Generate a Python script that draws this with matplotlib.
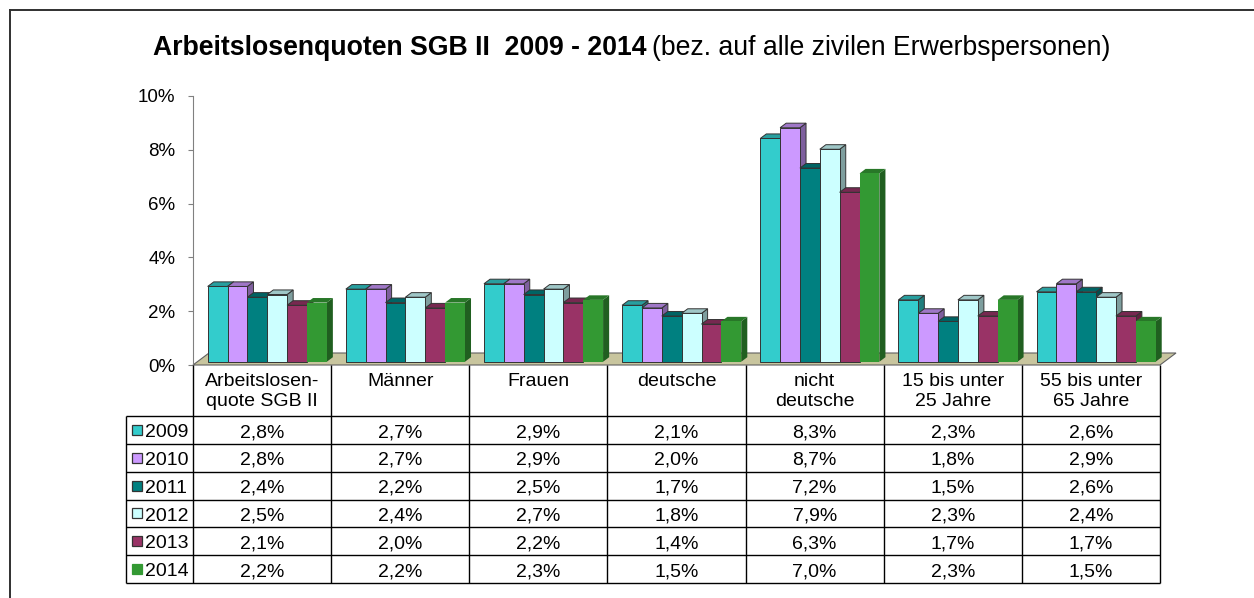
import matplotlib.pyplot as plt
from matplotlib.patches import Polygon, Rectangle
from matplotlib.lines import Line2D
from matplotlib.colors import to_rgb

plt.rcParams['font.family'] = ['Liberation Sans', 'DejaVu Sans']

# Daten
categories = ['Arbeitslosen-\nquote SGB II', 'Männer', 'Frauen', 'deutsche',
              'nicht\ndeutsche', '15 bis unter\n25 Jahre', '55 bis unter\n65 Jahre']
years = ['2009', '2010', '2011', '2012', '2013', '2014']
q2009 = [2.8, 2.7, 2.9, 2.1, 8.3, 2.3, 2.6]
q2010 = [2.8, 2.7, 2.9, 2.0, 8.7, 1.8, 2.9]
q2011 = [2.4, 2.2, 2.5, 1.7, 7.2, 1.5, 2.6]
q2012 = [2.5, 2.4, 2.7, 1.8, 7.9, 2.3, 2.4]
q2013 = [2.1, 2.0, 2.2, 1.4, 6.3, 1.7, 1.7]
q2014 = [2.2, 2.2, 2.3, 1.5, 7.0, 2.3, 1.5]
values = [q2009, q2010, q2011, q2012, q2013, q2014]
yticks = [0, 2, 4, 6, 8, 10]

colors = ['#33CCCC', '#CC99FF', '#008080', '#CCFFFF', '#993366', '#339933']
edges = ['#333333', '#333333', '#333333', '#333333', '#333333', 'none']


def shade(c, f):
    r, g, b = to_rgb(c)
    return (r * f, g * f, b * f)


W, H = 1254, 598
fig = plt.figure(figsize=(W / 100, H / 100), dpi=100)

# Rahmen (links und oben)
fig.add_artist(Line2D([10 / W, 10 / W], [0, 1 - 10 / H], color='#303030', lw=1.4))
fig.add_artist(Line2D([10 / W, 1], [1 - 10 / H, 1 - 10 / H], color='#303030', lw=1.4))

# Diagramm
ax = fig.add_axes([193 / W, (H - 365) / H, (1160 - 193) / W, (365 - 96) / H])
ax.set_xlim(-0.5, 6.5)
ax.set_ylim(0, 10)
for s in ['top', 'right', 'bottom']:
    ax.spines[s].set_visible(False)
ax.spines['left'].set_color('#808080')
ax.set_xticks([])
ax.set_yticks(yticks)
ax.set_yticklabels([f'{t}%' for t in yticks])
ax.tick_params(axis='y', direction='out', length=3.6, width=0.8, color='#808080',
               pad=9, labelsize=13.5)

dxd = 16 / 138.1      # Tiefe in Kategorie-Einheiten
dyd = 12 / 26.9       # Tiefe in %
f1, f2 = 0.27, 0.65
bw = 0.1437

floor = Polygon([(-0.5, 0), (6.5, 0), (6.5 + dxd, dyd), (-0.5 + dxd, dyd)],
                closed=True, facecolor='#c8c59e', edgecolor='#606060', lw=0.8,
                clip_on=False, zorder=1)
ax.add_patch(floor)

ddx, ddy = (f2 - f1) * dxd, (f2 - f1) * dyd
z = 2
for c in range(len(categories)):
    for s in range(len(years)):
        v = values[s][c]
        xl = c - 0.425 + s * bw + f1 * dxd
        y0 = f1 * dyd
        side = Polygon([(xl + bw, y0), (xl + bw + ddx, y0 + ddy),
                        (xl + bw + ddx, y0 + v + ddy), (xl + bw, y0 + v)],
                       closed=True, facecolor=shade(colors[s], 0.62),
                       edgecolor=edges[s], lw=0.7, clip_on=False, zorder=z)
        top = Polygon([(xl, y0 + v), (xl + bw, y0 + v), (xl + bw + ddx, y0 + v + ddy),
                       (xl + ddx, y0 + v + ddy)],
                      closed=True, facecolor=shade(colors[s], 0.78),
                      edgecolor=edges[s], lw=0.7, clip_on=False, zorder=z)
        front = Rectangle((xl, y0), bw, v, facecolor=colors[s], edgecolor=edges[s],
                          lw=0.7, clip_on=False, zorder=z)
        ax.add_patch(side)
        ax.add_patch(top)
        ax.add_patch(front)
        z += 1

# Datentabelle
tb = fig.add_axes([126 / W, (H - 583) / H, 1034 / W, 218 / H])
xl0 = -0.5 - 67 / 138.1
hdr = 51 / 27.83
tb.set_xlim(xl0, 6.5)
tb.set_ylim(6, -hdr)
tb.axis('off')

nrows = len(years)
tb.hlines(range(nrows + 1), xl0, 6.5, color='black', lw=1.0, clip_on=False)
tb.vlines([xl0], 0, nrows, color='black', lw=1.0, clip_on=False)
tb.vlines([k - 0.5 for k in range(len(categories) + 1)], -hdr, nrows,
          color='black', lw=1.0, clip_on=False)

for c, cat in enumerate(categories):
    tb.text(c, -hdr + 8 / 27.83, cat, ha='center', va='top', fontsize=14)

for r, yr in enumerate(years):
    tb.plot([xl0 + 10.7 / 138.1], [r + 0.5], marker='s', markersize=6.5,
            markerfacecolor=colors[r], markeredgecolor=edges[r] if edges[r] != 'none' else colors[r],
            markeredgewidth=0.9, clip_on=False)
    tb.text(xl0 + 19 / 138.1, r + 0.76, yr, ha='left', va='baseline', fontsize=14)
    for c in range(len(categories)):
        txt = f'{values[r][c]:.1f}%'.replace('.', ',')
        tb.text(c, r + 0.76, txt, ha='center', va='baseline', fontsize=14)

# Titel
t1 = fig.text(153 / W, 1 - 55 / H, 'Arbeitslosenquoten SGB II  2009 - 2014',
              fontsize=19.2, fontweight='bold', va='baseline', ha='left')
fig.canvas.draw()
bb = t1.get_window_extent()
fig.text((bb.x1 + 6) / W, 1 - 55 / H, '(bez. auf alle zivilen Erwerbspersonen)',
         fontsize=19.2, va='baseline', ha='left')

fig.savefig('out.png', dpi=100)
